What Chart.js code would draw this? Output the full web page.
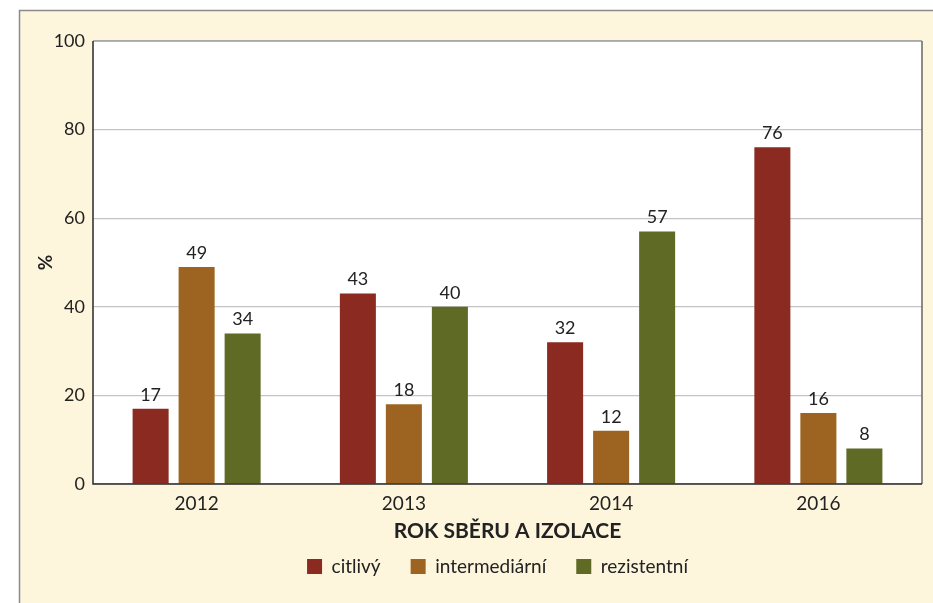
<!DOCTYPE html>
<html>
<head>
<meta charset="utf-8">
<script src="https://cdn.jsdelivr.net/npm/chart.js@4"></script>
<style>
  html, body { margin: 0; padding: 0; background: #fff; }
  #wrap { width: 933px; height: 603px; }
</style>
</head>
<body>
<div id="wrap"><canvas id="c" width="933" height="603"></canvas></div>
<script>
// data
const years = ['2012', '2013', '2014', '2016'];
const citlivy = [17, 43, 32, 76];
const intermediarni = [49, 18, 12, 16];
const rezistentni = [34, 40, 57, 8];
const seriesNames = ['citlivý', 'intermediární', 'rezistentní'];
const colors = ['#8b2a20', '#9d6320', '#5f6a25'];
const yTicks = [0, 20, 40, 60, 80, 100];

const FONT = 'Lato, "Open Sans", sans-serif';
const CREAM = '#fdf5dc';

// frame + white plot area behind the bars
const framePlugin = {
  id: 'frame',
  afterLayout(chart) {
    // pull the legend up closer to the axis title, centre it under the plot
    const lg = chart.legend;
    if (lg) {
      lg.top -= 17; lg.bottom -= 17;
      lg.left += 27; lg.right += 27;
    }
  },
  beforeDraw(chart) {
    const ctx = chart.ctx;
    const a = chart.chartArea;
    ctx.save();
    ctx.fillStyle = '#fff';
    ctx.fillRect(0, 0, chart.width, chart.height);
    ctx.fillStyle = CREAM;
    ctx.fillRect(19, 10, chart.width - 19, chart.height - 10);
    ctx.strokeStyle = '#8a8a8a';
    ctx.lineWidth = 1.5;
    ctx.beginPath();
    ctx.moveTo(19.5, chart.height);
    ctx.lineTo(19.5, 10.5);
    ctx.lineTo(chart.width, 10.5);
    ctx.stroke();
    ctx.fillStyle = '#fff';
    ctx.fillRect(a.left, a.top, a.right - a.left, a.bottom - a.top);
    ctx.restore();
  },
  afterDraw(chart) {
    const ctx = chart.ctx;
    const a = chart.chartArea;
    ctx.save();
    ctx.lineWidth = 1.5;
    ctx.strokeStyle = '#a0a0a0';
    ctx.beginPath();
    ctx.moveTo(a.left, a.top);
    ctx.lineTo(a.right, a.top);
    ctx.stroke();
    ctx.strokeStyle = '#666';
    ctx.beginPath();
    ctx.moveTo(a.right, a.top);
    ctx.lineTo(a.right, a.bottom);
    ctx.stroke();
    ctx.strokeStyle = '#2a2a2a';
    ctx.beginPath();
    ctx.moveTo(a.left, a.top);
    ctx.lineTo(a.left, a.bottom);
    ctx.lineTo(a.right, a.bottom);
    ctx.stroke();
    ctx.restore();
  }
};

// value labels on top of each bar
const valueLabels = {
  id: 'valueLabels',
  afterDatasetsDraw(chart) {
    const ctx = chart.ctx;
    ctx.save();
    ctx.font = '18px ' + FONT;
    ctx.fillStyle = '#222';
    ctx.textAlign = 'center';
    ctx.textBaseline = 'bottom';
    chart.data.datasets.forEach((ds, i) => {
      chart.getDatasetMeta(i).data.forEach((bar, j) => {
        ctx.fillText(String(ds.data[j]), bar.x, bar.y - 5);
      });
    });
    ctx.restore();
  }
};

new Chart(document.getElementById('c'), {
  type: 'bar',
  data: {
    labels: years,
    datasets: [citlivy, intermediarni, rezistentni].map((d, i) => ({
      label: seriesNames[i],
      data: d,
      backgroundColor: colors[i],
      categoryPercentage: 0.666,
      barPercentage: 0.783
    }))
  },
  options: {
    responsive: false,
    animation: false,
    layout: { padding: { left: 19, top: 41, right: 11, bottom: 0 } },
    scales: {
      x: {
        afterFit(scale) { scale.height = 60; },
        grid: { display: false, drawTicks: false },
        border: { display: false },
        ticks: { color: '#222', font: { family: FONT, size: 19 }, padding: 8 },
        title: {
          display: true, text: 'ROK SBĚRU A IZOLACE', color: '#222',
          font: { family: FONT, size: 21, weight: 'bold' },
          padding: { top: 0, bottom: 0 }
        }
      },
      y: {
        min: 0, max: 100,
        afterBuildTicks(scale) { scale.ticks = yTicks.map(v => ({ value: v })); },
        afterFit(scale) { scale.width = 74; },
        grid: { color: '#c4c4c4', lineWidth: 1.2, drawTicks: false },
        border: { display: false },
        ticks: { color: '#222', font: { family: FONT, size: 18 }, padding: 8 },
        title: {
          display: true, text: '%', color: '#222',
          font: { family: FONT, size: 19, weight: 'bold' },
          padding: { top: 15, bottom: 0 }
        }
      }
    },
    plugins: {
      legend: {
        position: 'bottom',
        labels: {
          color: '#222', font: { family: FONT, size: 19 },
          boxWidth: 15, boxHeight: 15, padding: 30
        }
      },
      tooltip: { enabled: false }
    }
  },
  plugins: [framePlugin, valueLabels]
});
</script>
</body>
</html>
